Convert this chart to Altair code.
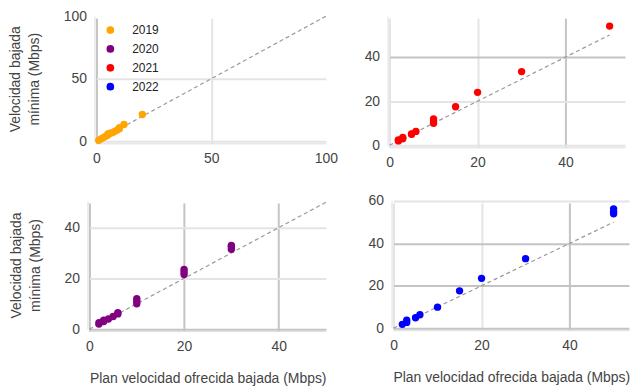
import altair as alt
import pandas as pd

years = ["2019", "2020", "2021", "2022"]
colors = ["#FFA500", "#800080", "#FF0000", "#0000FF"]

plan_2019 = [1, 2, 3, 4, 5, 5, 6, 7, 8, 9, 10, 10, 12, 20]
min_2019 = [0.8, 2, 3, 4, 5, 6, 6.5, 7, 8, 9, 10, 11, 13.5, 21.5]
plan_2020 = [2, 2, 3, 3, 4, 5, 6, 6, 10, 10, 10, 20, 20, 20, 30, 30, 30]
min_2020 = [2, 2.5, 3, 3.5, 4, 5, 6, 6.5, 10, 11, 12, 21.5, 22.5, 23.5, 31.5, 32.5, 33]
plan_2021 = [2, 2, 3, 3, 5, 5, 6, 10, 10, 10, 15, 20, 30, 50]
min_2021 = [2, 2.5, 3, 3.6, 5, 5.2, 6.3, 10, 11, 12, 17.5, 24, 33.4, 54]
plan_2022 = [2, 3, 3, 5, 6, 10, 15, 20, 30, 50, 50, 50]
min_2022 = [1.8, 2.7, 3.8, 4.9, 6.3, 9.9, 17.6, 23.5, 32.8, 54, 55, 56.3]

x_title = "Plan velocidad ofrecida bajada (Mbps)"
y_title = ["Velocidad bajada", "mínima (Mbps)"]

DARK = "#c4c4c4"
LIGHT = "#e4e4e4"


def grid_color(dark_vals, hide_vals):
    conds = []
    if hide_vals:
        conds.append({"test": f"indexof({hide_vals}, datum.value) >= 0", "value": "rgba(0,0,0,0)"})
    if dark_vals:
        conds.append({"test": f"indexof({dark_vals}, datum.value) >= 0", "value": DARK})
    if conds:
        return {"condition": conds, "value": LIGHT}
    return LIGHT


def panel(xs, ys, year, xdom, ydom, xticks, yticks, diag_max, w, h,
          xdark, ydark, xhide, yhide, show_xtitle, show_ytitle, legend,
          xrange=None, yoffset=2):
    df = pd.DataFrame({"plan": xs, "minima": ys, "year": [year] * len(xs)})
    diag = pd.DataFrame({"plan": [0, diag_max], "minima": [0, diag_max]})
    xaxis = alt.Axis(values=xticks, title=x_title if show_xtitle else None,
                     gridColor=grid_color(xdark, xhide), labelFlush=False)
    yaxis = alt.Axis(values=yticks, title=y_title if show_ytitle else None,
                     gridColor=grid_color(ydark, yhide), labelFlush=False, offset=yoffset)
    if xrange is not None:
        xscale = alt.Scale(domain=xdom, nice=False, zero=False, range=xrange)
    else:
        xscale = alt.Scale(domain=xdom, nice=False, zero=False)
    xs_ = alt.X("plan:Q", scale=xscale, axis=xaxis)
    ys_ = alt.Y("minima:Q", scale=alt.Scale(domain=ydom, nice=False, zero=False), axis=yaxis)
    line = alt.Chart(diag).mark_line(color="#999999", strokeDash=[4, 3], strokeWidth=1.2).encode(
        x=xs_, y=ys_)
    if legend:
        leg = alt.Legend(orient="none", legendX=8, legendY=8, title=None, symbolType="circle",
                         symbolSize=60, labelFontSize=12, labelColor="#222", rowPadding=7,
                         labelOffset=16, padding=0, symbolStrokeWidth=0)
    else:
        leg = None
    pts = alt.Chart(df).mark_circle(size=55, opacity=1).encode(
        x=xs_, y=ys_,
        color=alt.Color("year:N", scale=alt.Scale(domain=years, range=colors), legend=leg))
    return alt.layer(line, pts).properties(width=w, height=h)


tl = panel(plan_2019, min_2019, "2019", [0, 100], [0, 100], [0, 50, 100], [0, 50, 100], 100,
           231, 126, [0], [], [100], [100], False, True, True)
tr = panel(plan_2021, min_2021, "2021", [0, 53.5], [0, 58.5], [0, 20, 40], [0, 20, 40], 50,
           237, 130, [40], [40], [], [], False, False, False)
bl = panel(plan_2020, min_2020, "2020", [0, 50], [0, 50.5], [0, 20, 40], [0, 20, 40], 50,
           231, 129, [0, 20, 40], [0], [], [], True, True, False,
           xrange=[-7, 231], yoffset=9)
br = panel(plan_2022, min_2022, "2022", [0, 53.5], [0, 60], [0, 20, 40], [0, 20, 40, 60], 50,
           237, 128, [40], [0, 20, 40], [], [], True, False, False)

top = alt.hconcat(tl, tr, spacing=26).resolve_scale(color="independent")
bottom = alt.hconcat(bl, br, spacing=35).resolve_scale(color="independent")

chart = alt.concat(top, bottom, columns=1, spacing=25, align="none").resolve_scale(
    color="independent"
).properties(
    padding=0
).configure(font="Liberation Sans").configure_view(strokeWidth=0).configure_axis(
    labelFontSize=14, titleFontSize=14, labelColor="#444444", titleColor="#444444",
    titleFontWeight="normal", ticks=False, domainColor="#dddddd", domainWidth=1,
    offset=2, gridWidth=2, labelPadding=8
).configure_axisX(titlePadding=19).configure_axisY(titlePadding=22, titleLineHeight=19)

chart.save("out.html", embed_options={"renderer": "svg", "actions": False})
